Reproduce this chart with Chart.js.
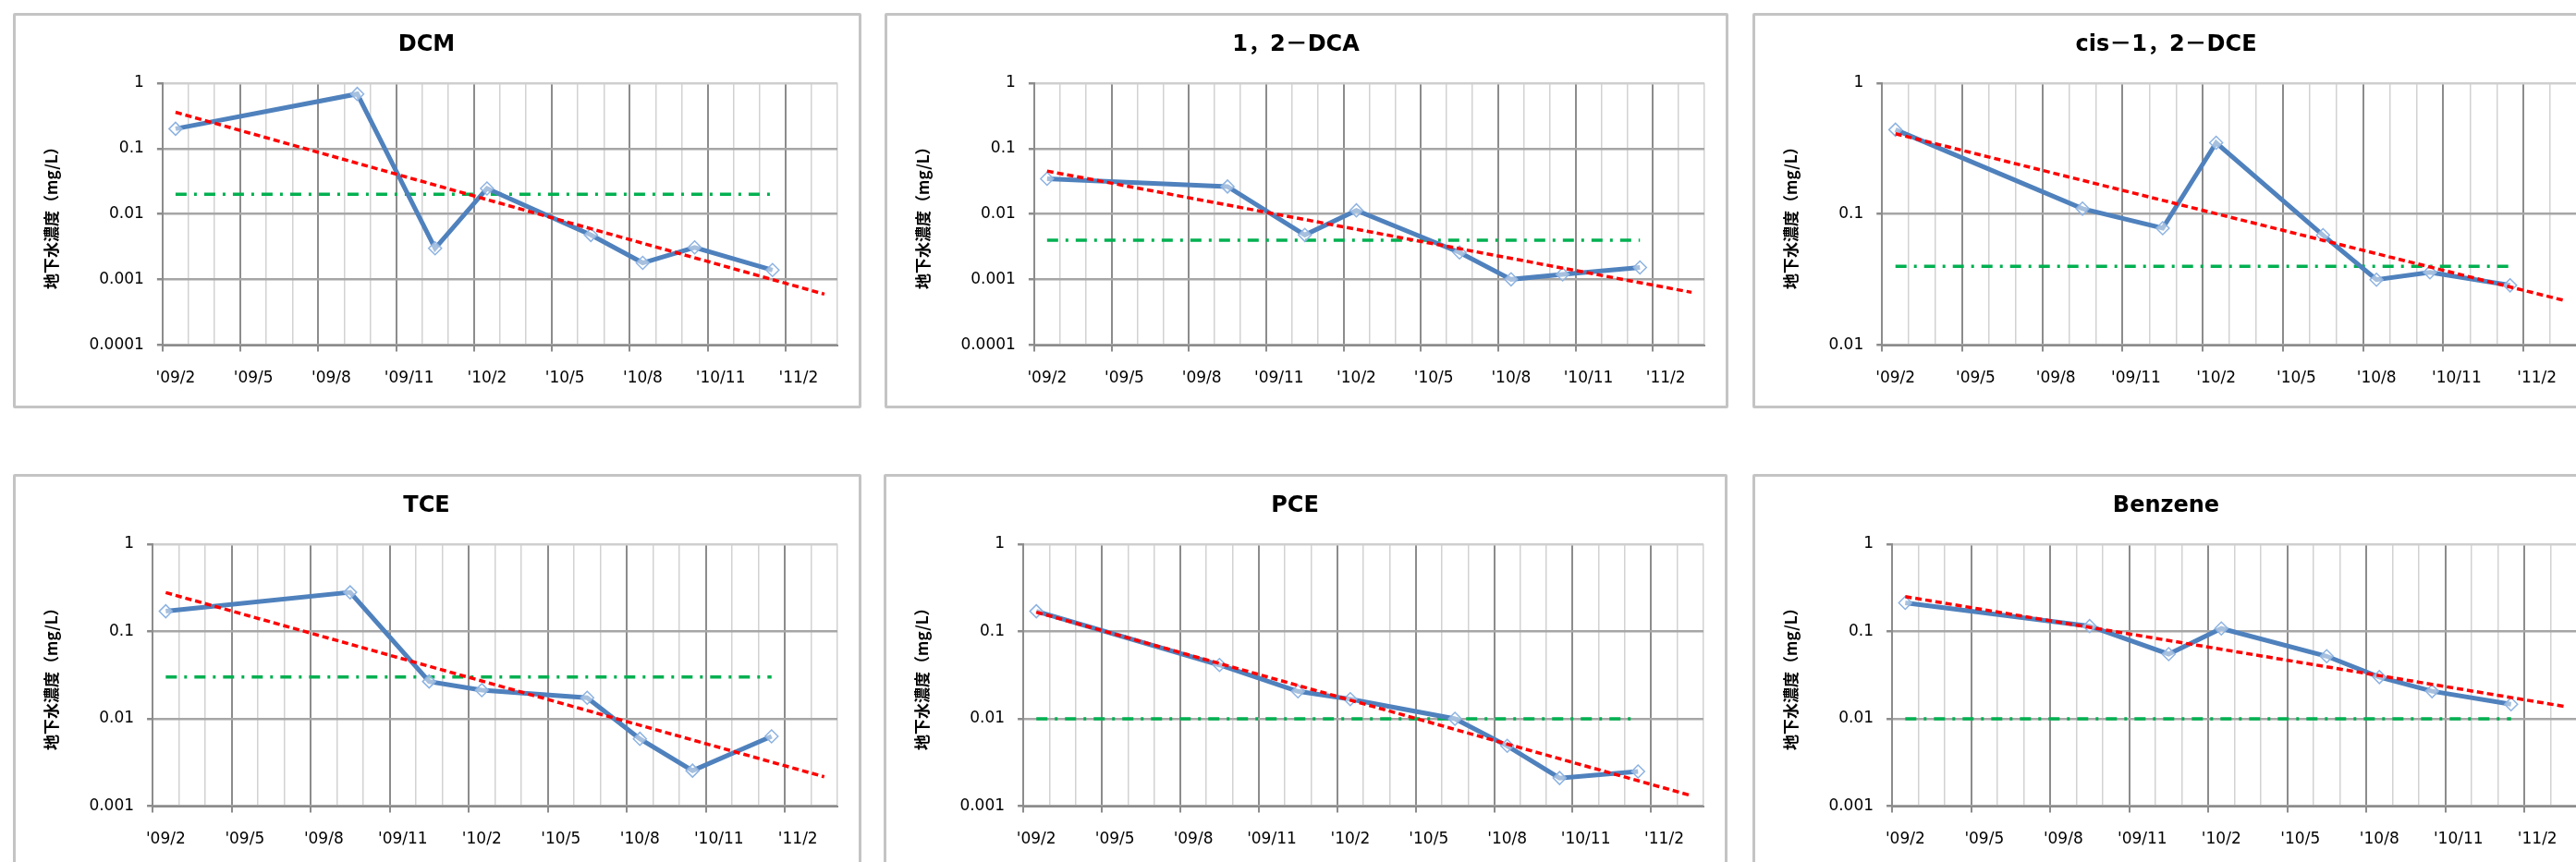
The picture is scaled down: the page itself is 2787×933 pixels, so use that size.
<!DOCTYPE html>
<html lang="ja">
<head>
<meta charset="utf-8">
<title>地下水濃度の推移</title>
<script src="https://cdn.jsdelivr.net/npm/chart.js@4.4.1/dist/chart.umd.min.js"></script>
<style>
  html, body { margin: 0; padding: 0; background: #fff; }
  body { width: 2787px; height: 933px; overflow: hidden; position: relative; }
  .panel { position: absolute; border: 3px solid #c4c4c4; border-radius: 2px; background: #fff; }
  .panel canvas { display: block; }
</style>
</head>
<body>
<div class="panel" style="left:14px;top:14px"><canvas id="c0" width="912" height="422"></canvas></div>
<div class="panel" style="left:957px;top:14px"><canvas id="c1" width="907" height="422"></canvas></div>
<div class="panel" style="left:1896px;top:14px"><canvas id="c2" width="912" height="422"></canvas></div>
<div class="panel" style="left:14px;top:513px"><canvas id="c3" width="912" height="422"></canvas></div>
<div class="panel" style="left:956px;top:513px"><canvas id="c4" width="907" height="422"></canvas></div>
<div class="panel" style="left:1896px;top:513px"><canvas id="c5" width="912" height="422"></canvas></div>

<script>
// sampling dates (year-month) and x axis
const sampleDates = ['2009-02', '2009-09', '2009-12', '2010-02', '2010-06', '2010-08', '2010-10', '2011-01'];
const trendDates = ['2009-02', '2011-03'];
const axisStart = '2009-02';
const axisMonths = 26;
const xTickLabels = ["'09/2", "'09/5", "'09/8", "'09/11", "'10/2", "'10/5", "'10/8", "'10/11", "'11/2"];

// measured concentrations (mg/L)
const dcm = [0.20, 0.68, 0.0030, 0.0246, 0.0048, 0.0018, 0.0031, 0.0014];
const dca12 = [0.0345, 0.0263, 0.0048, 0.0114, 0.0026, 0.00101, 0.0012, 0.00153];
const cisDce = [0.44, 0.11, 0.078, 0.35, 0.069, 0.0316, 0.036, 0.0286];
const tce = [0.17, 0.28, 0.0267, 0.0213, 0.0174, 0.0059, 0.00255, 0.0063];
const pce = [0.17, 0.0413, 0.0206, 0.0168, 0.0100, 0.0049, 0.0021, 0.0025];
const benzene = [0.212, 0.115, 0.055, 0.108, 0.052, 0.030, 0.0207, 0.0147];

// trend line ends (first / last)
const dcmTrend = [0.357, 0.0006];
const dca12Trend = [0.0453, 0.00064];
const cisDceTrend = [0.41, 0.022];
const tceTrend = [0.278, 0.00217];
const pceTrend = [0.166, 0.00133];
const benzeneTrend = [0.25, 0.0139];

// groundwater standards (mg/L)
const standards = [0.02, 0.004, 0.04, 0.03, 0.01, 0.01];

const titles = ['DCM', '1，2－DCA', 'cis－1，2－DCE', 'TCE', 'PCE', 'Benzene'];
const yMins = [0.0001, 0.0001, 0.01, 0.001, 0.001, 0.001];
const yMax = 1;
const yTitle = '地下水濃度（mg/L）';

Chart.defaults.font.family = "'DejaVu Sans', 'Noto Sans CJK JP', sans-serif";
Chart.defaults.color = '#000';

const [y0, m0] = axisStart.split('-').map(Number);
// middle of the month, counted from the axis start
const monthPos = d => {
  const [y, m] = d.split(/[-\/]/).map(Number);
  return (y - y0) * 12 + (m - m0) + 0.5;
};
const labelPos = xTickLabels.map(l => monthPos(l.replace("'", '20')));

const decades = (lo, hi) => {
  const out = [];
  for (let e = Math.round(Math.log10(hi)); e >= Math.round(Math.log10(lo)); e--) out.push(Number('1e' + e));
  return out;
};

const isMajor = c => c.tick && Math.round(c.tick.value) % 3 === 0;

function makeChart(id, title, values, trend, standard, yMin) {
  const first = monthPos(sampleDates[0]);
  const last = monthPos(sampleDates[sampleDates.length - 1]);
  new Chart(document.getElementById(id), {
    type: 'line',
    data: {
      datasets: [
        {
          data: trendDates.map((d, i) => ({ x: monthPos(d), y: trend[i] })),
          borderColor: '#ff0000',
          borderWidth: 3.5,
          borderDash: [7, 4],
          pointRadius: 0,
          order: 0
        },
        {
          data: sampleDates.map((d, i) => ({ x: monthPos(d), y: values[i] })),
          borderColor: '#4f81bd',
          borderWidth: 5,
          pointStyle: 'rectRot',
          pointRadius: 7,
          pointBorderColor: '#8db3e2',
          pointBorderWidth: 1.5,
          pointBackgroundColor: 'rgba(255,255,255,0.5)',
          order: 1
        },
        {
          data: [{ x: first, y: standard }, { x: last, y: standard }],
          borderColor: '#00b050',
          borderWidth: 3.5,
          borderDash: [12, 8, 3, 8],
          pointRadius: 0,
          order: 2
        }
      ]
    },
    options: {
      responsive: false,
      animation: false,
      layout: { padding: { left: 0, right: 23, top: 0, bottom: 0 } },
      plugins: {
        legend: { display: false },
        tooltip: { enabled: false },
        title: {
          display: true,
          text: title,
          font: { size: 24, weight: 'bold' },
          color: '#000',
          padding: { top: 17, bottom: 27 }
        }
      },
      scales: {
        x: {
          type: 'linear',
          position: 'bottom',
          weight: 0,
          min: 0,
          max: axisMonths,
          afterBuildTicks: axis => {
            axis.ticks = [];
            for (let i = 0; i <= axisMonths; i++) axis.ticks.push({ value: i });
          },
          ticks: { display: false },
          grid: {
            color: c => isMajor(c) ? '#8c8c8c' : '#d2d2d2',
            lineWidth: c => isMajor(c) ? 2 : 1.5,
            tickLength: 7,
            tickColor: c => isMajor(c) ? '#8c8c8c' : 'rgba(0,0,0,0)'
          },
          border: { color: '#8c8c8c', width: 2 }
        },
        xl: {
          type: 'linear',
          position: 'bottom',
          weight: 1,
          min: 0,
          max: axisMonths,
          afterBuildTicks: axis => {
            axis.ticks = labelPos.map(v => ({ value: v }));
          },
          ticks: {
            autoSkip: false,
            maxRotation: 0,
            padding: 19,
            font: { size: 17 },
            color: '#000',
            callback: (v, i) => xTickLabels[i]
          },
          grid: { display: false, drawTicks: false },
          border: { display: false }
        },
        y: {
          type: 'logarithmic',
          min: yMin,
          max: yMax,
          afterBuildTicks: axis => {
            axis.ticks = decades(yMin, yMax).map(v => ({ value: v }));
          },
          ticks: {
            autoSkip: false,
            padding: 14,
            font: { size: 17 },
            color: '#000',
            callback: v => String(v)
          },
          grid: {
            color: c => c.tick && c.tick.value === yMax ? '#cfcfcf' : '#a6a6a6',
            lineWidth: 2.5,
            tickLength: 6,
            tickColor: '#8c8c8c'
          },
          border: { color: '#8c8c8c', width: 2 },
          title: {
            display: true,
            text: yTitle,
            color: '#000',
            font: { family: "'Noto Sans CJK JP'", size: 17, weight: 'bold' },
            padding: { top: 28, bottom: 17 }
          }
        }
      }
    }
  });
}

makeChart('c0', titles[0], dcm, dcmTrend, standards[0], yMins[0]);
makeChart('c1', titles[1], dca12, dca12Trend, standards[1], yMins[1]);
makeChart('c2', titles[2], cisDce, cisDceTrend, standards[2], yMins[2]);
makeChart('c3', titles[3], tce, tceTrend, standards[3], yMins[3]);
makeChart('c4', titles[4], pce, pceTrend, standards[4], yMins[4]);
makeChart('c5', titles[5], benzene, benzeneTrend, standards[5], yMins[5]);
</script>
</body>
</html>
